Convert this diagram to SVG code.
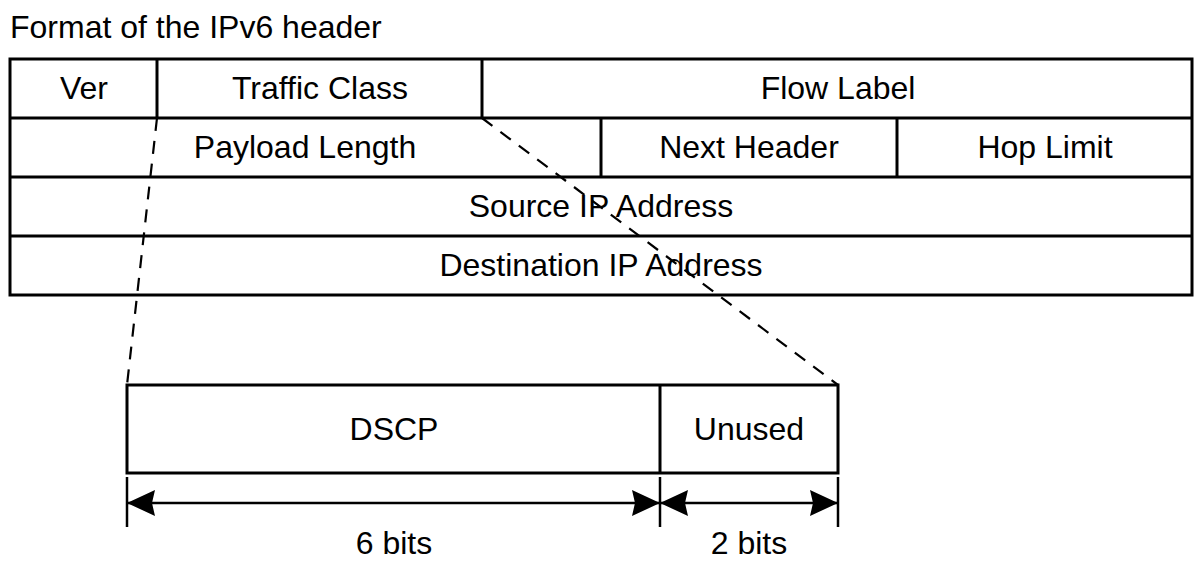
<svg xmlns="http://www.w3.org/2000/svg" width="1199" height="576" viewBox="0 0 1199 576">
  <style>
    .t { font-family: "Liberation Sans", Arial, sans-serif; font-size: 32px; fill: #000; text-anchor: middle; }
    .title { text-anchor: start; }
    .box { fill: none; stroke: #000; stroke-width: 3; }
    .ln { stroke: #000; stroke-width: 3; fill: none; }
    .dash { stroke: #000; stroke-width: 2.2; fill: none; stroke-dasharray: 13 10; }
    .tick { stroke: #000; stroke-width: 2.5; }
    .arr { stroke: #000; stroke-width: 2.5; fill: none; marker-start: url(#ah); marker-end: url(#ah); }
  </style>
  <defs>
    <marker id="ah" markerUnits="userSpaceOnUse" markerWidth="30" markerHeight="28" refX="28" refY="13" orient="auto-start-reverse" viewBox="0 0 30 28">
      <path d="M0,0 L28,13 L0,26 L3,13 Z" fill="#000"/>
    </marker>
  </defs>
  <rect width="1199" height="576" fill="#fff"/>

  <text id="title" class="t title" x="10" y="38">Format of the IPv6 header</text>

  <g id="header">
    <rect class="box" x="10" y="59" width="1182" height="236"/>
    <line class="ln" x1="10" y1="118" x2="1192" y2="118"/>
    <line class="ln" x1="10" y1="177" x2="1192" y2="177"/>
    <line class="ln" x1="10" y1="236" x2="1192" y2="236"/>
    <line class="ln" x1="157" y1="59" x2="157" y2="118"/>
    <line class="ln" x1="482" y1="59" x2="482" y2="118"/>
    <line class="ln" x1="601" y1="118" x2="601" y2="177"/>
    <line class="ln" x1="897" y1="118" x2="897" y2="177"/>
  </g>
  <g id="ver"><text class="t" x="84" y="99">Ver</text></g>
  <g id="traffic-class"><text class="t" x="320" y="99">Traffic Class</text></g>
  <g id="flow-label"><text class="t" x="838" y="99">Flow Label</text></g>
  <g id="payload-length"><text class="t" x="305" y="158">Payload Length</text></g>
  <g id="next-header"><text class="t" x="749" y="158">Next Header</text></g>
  <g id="hop-limit"><text class="t" x="1045" y="158">Hop Limit</text></g>
  <g id="source-ip"><text class="t" x="601" y="217">Source IP Address</text></g>
  <g id="destination-ip"><text class="t" x="601" y="276">Destination IP Address</text></g>

  <g id="traffic-class-detail">
    <rect class="box" x="127" y="385" width="711" height="88"/>
    <line class="ln" x1="660" y1="385" x2="660" y2="473"/>
  </g>
  <g id="dscp"><text class="t" x="394" y="440">DSCP</text></g>
  <g id="unused"><text class="t" x="749" y="440">Unused</text></g>

  <g id="connectors">
    <line class="dash" x1="157" y1="118" x2="127" y2="385"/>
    <line class="dash" x1="482" y1="118" x2="838" y2="385"/>
    <line class="tick" x1="127" y1="477" x2="127" y2="527"/>
    <line class="tick" x1="660" y1="477" x2="660" y2="527"/>
    <line class="tick" x1="838" y1="477" x2="838" y2="527"/>
    <line class="arr" x1="127" y1="503" x2="660" y2="503"/>
    <line class="arr" x1="660" y1="503" x2="838" y2="503"/>
  </g>
  <g id="bits-6"><text class="t" x="394" y="554">6 bits</text></g>
  <g id="bits-2"><text class="t" x="749" y="554">2 bits</text></g>
</svg>
